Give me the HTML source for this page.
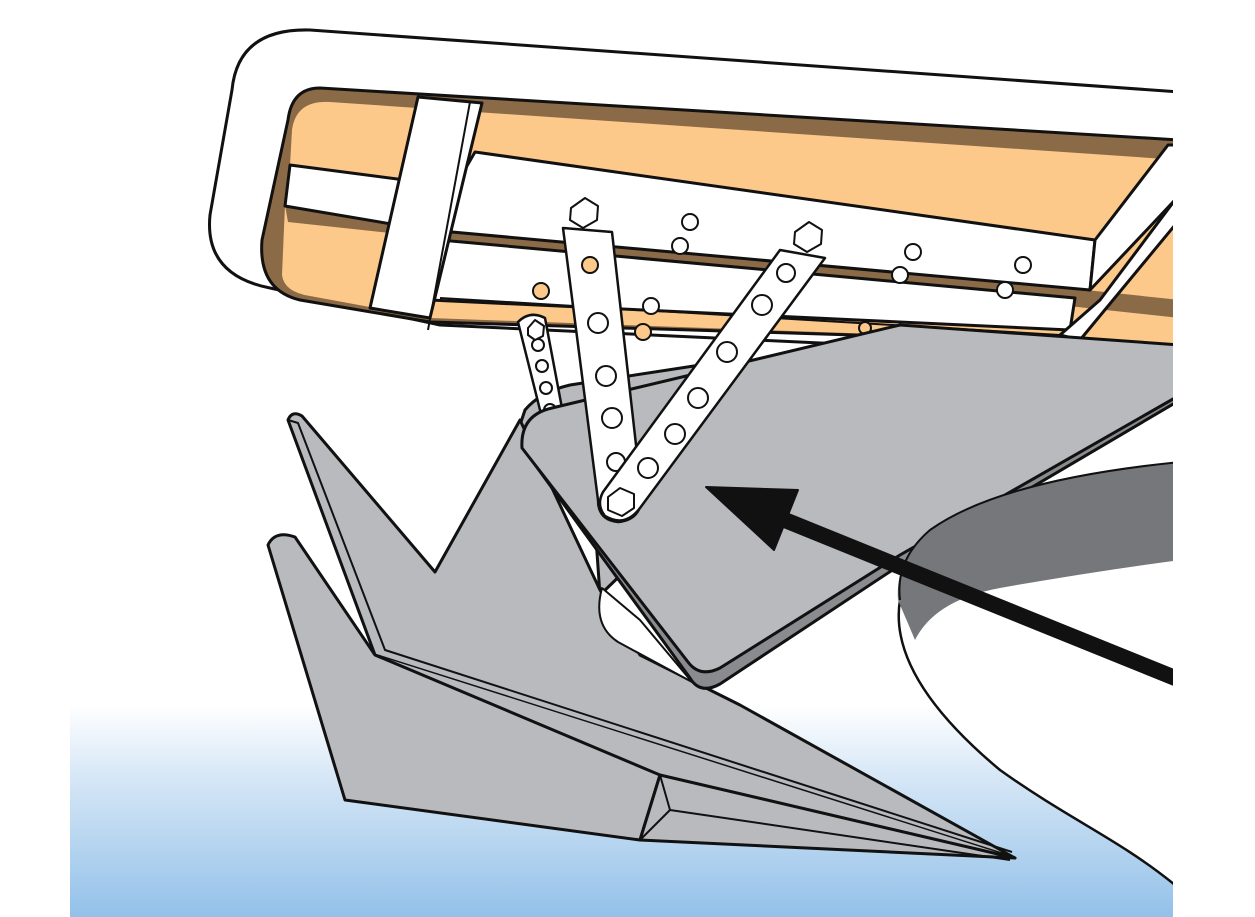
<!DOCTYPE html>
<html><head><meta charset="utf-8"><style>html,body{margin:0;padding:0;background:#fff;}svg{display:block}</style></head>
<body>
<svg width="1255" height="917" viewBox="0 0 1255 917" xmlns="http://www.w3.org/2000/svg">
<defs>
<linearGradient id="sea" x1="0" y1="0" x2="0" y2="1">
<stop offset="0" stop-color="#ffffff"/><stop offset="0.35" stop-color="#d5e6f6"/><stop offset="1" stop-color="#93c1e9"/>
</linearGradient>
<clipPath id="c"><rect x="0" y="0" width="1173" height="917"/></clipPath>
</defs>
<rect x="70" y="705" width="1103" height="212" fill="url(#sea)"/>
<g clip-path="url(#c)" stroke="#111" stroke-width="3" stroke-linejoin="round">
<!-- hull -->
<path d="M1180,560 L930,590 Q895,600 900,600 C890,660 940,720 1000,770 C1070,820 1120,840 1175,885 L1180,905 Z" fill="#fff" stroke="none"/>
<path d="M900,600 C890,660 940,720 1000,770 C1070,820 1120,840 1175,885" fill="none" stroke-width="2.5"/>
<!-- outer frame -->
<path d="M1180,92 L310,30 Q238,28 232,90 L210,215 Q204,275 270,288 L440,325 L1180,360 Z" fill="#fff"/>
<!-- inner opening wood -->
<path d="M1180,140 L320,88 Q292,88 288,120 L262,240 Q258,290 300,300 L430,322 L1180,345 Z" fill="#8b6a47"/>
<path d="M1180,160 L330,102 Q296,100 292,130 L290,165 L400,180 L285,205 L282,275 Q284,292 310,296 L430,318 L1180,345 Z" fill="#fcc98a" stroke="none"/>
<path d="M1180,318 L288,222 L285,205 L1180,300 Z" fill="#8b6a47" stroke="none"/>
<!-- middle white bar of frame -->
<path d="M290,165 L420,182 L415,228 L285,206 Z" fill="#fff"/>
<!-- upper beam -->
<path d="M475,152 L1095,240 L1090,290 L430,230 Z" fill="#fff"/>
<path d="M1095,240 L1168,145 L1175,145 L1175,200 L1090,290 Z" fill="#fff"/>
<!-- lower beam -->
<path d="M440,240 L1075,298 L1070,330 L430,300 Z" fill="#fff"/>
<path d="M440,298 L1060,335" fill="none" stroke-width="2"/>
<!-- diagonal strut -->
<path d="M1175,200 L1100,300 L1060,335 L1080,340 L1175,225 Z" fill="#fff"/>
<!-- vertical bracket -->
<path d="M418,97 L482,103 L430,318 L370,308 Z" fill="#fff"/>
<path d="M470,102 L428,330" fill="none" stroke-width="2"/>
<!-- holes on beams -->
<g fill="#fff" stroke-width="2">
<circle cx="690" cy="222" r="8"/><circle cx="680" cy="246" r="8"/>
<circle cx="913" cy="252" r="8"/><circle cx="900" cy="275" r="8"/>
<circle cx="1023" cy="265" r="8"/><circle cx="1005" cy="290" r="8"/>
<circle cx="541" cy="291" r="8" fill="#fcc98a"/><circle cx="651" cy="306" r="8"/>
<circle cx="643" cy="332" r="8" fill="#fcc98a"/><circle cx="865" cy="328" r="6" fill="#fcc98a"/>
</g>
<path d="M571,208 L585,198 L598,206 L597,220 L583,228 L570,220 Z" fill="#fff" stroke-width="2"/>
<path d="M795,232 L809,222 L822,230 L821,244 L807,252 L794,244 Z" fill="#fff" stroke-width="2"/>
<!-- back plate -->
<path d="M515,440 L525,410 Q540,392 570,385 L720,362 L760,440 L600,595 L590,455 Z" fill="#b9babe"/>
<circle cx="546" cy="422" r="10" fill="#fff" stroke-width="2"/>
<!-- small bar C -->
<path d="M518,322 Q530,310 545,318 L568,440 L548,442 Z" fill="#fff" stroke-width="2.5"/>
<g fill="#fff" stroke-width="2"><circle cx="538" cy="345" r="6"/><circle cx="542" cy="366" r="6"/><circle cx="546" cy="388" r="6"/><circle cx="550" cy="410" r="6"/></g>
<path d="M528,328 L535,320 L544,326 L543,336 L535,340 L528,335 Z" fill="#fff" stroke-width="2"/>
<!-- fluke -->
<path d="M288,420 Q292,410 302,416 L435,572 L520,420 L600,590 L640,655 L740,705 L1015,858 L375,655 Z" fill="#b9babe"/>
<path d="M375,655 L660,775 L1015,858 Z" fill="#b9babe" stroke="none"/>
<path d="M288,420 L298,423 L385,650 L1012,852" fill="none" stroke-width="2"/>
<path d="M268,545 Q275,530 295,537 L375,655 L660,775 L640,840 L345,800 Z" fill="#b9babe"/>
<path d="M660,775 L1015,858 L640,840 Z" fill="#b9babe"/>
<path d="M660,775 L670,810 L640,840 M670,810 L1010,860" fill="none" stroke-width="2"/>
<!-- white gap -->
<path d="M602,588 Q592,625 618,642 L692,682 L640,620 Z" fill="#fff" stroke-width="2"/>
<!-- main shank plate (edge) -->
<path d="M528,455 Q520,420 555,412 L900,330 L1180,348 L1180,400 L900,565 L720,684 Q700,695 690,678 Z" fill="#8a8b8f"/>
<path d="M522,448 Q520,415 552,408 L900,325 L1180,345 L1180,395 L900,555 L720,668 Q700,678 688,662 Z" fill="#b9babe"/>
<!-- dark rode band -->
<path d="M1180,462 Q1000,480 930,530 Q895,560 898,600 L915,640 Q935,600 1000,588 Q1090,572 1180,560 Z" fill="#76777b" stroke="none"/>
<path d="M1180,462 Q1000,480 930,530 Q895,560 900,600" fill="none" stroke-width="2"/>
<!-- bar A -->
<path d="M563,228 L612,232 L642,498 Q640,520 618,522 Q598,520 598,500 Z" fill="#fff" stroke-width="2.5"/>
<g fill="#fff" stroke-width="2"><circle cx="590" cy="265" r="8" fill="#fcc98a"/><circle cx="598" cy="323" r="10"/><circle cx="606" cy="376" r="10"/><circle cx="612" cy="418" r="10"/><circle cx="616" cy="462" r="9"/></g>
<!-- bar B -->
<path d="M780,250 L825,258 L640,508 Q625,528 605,516 Q596,505 603,492 Z" fill="#fff" stroke-width="2.5"/>
<g fill="#fff" stroke-width="2"><circle cx="786" cy="273" r="9"/><circle cx="762" cy="305" r="10"/><circle cx="727" cy="352" r="10"/><circle cx="698" cy="398" r="10"/><circle cx="675" cy="434" r="10"/><circle cx="648" cy="468" r="10"/></g>
<path d="M608,497 L620,488 L634,494 L634,508 L622,516 L608,510 Z" fill="#fff" stroke-width="2"/>
<!-- arrow -->
<path d="M1180,680 L765,512" stroke="#111" stroke-width="16" fill="none" stroke-linecap="butt"/>
<path d="M706,487 L798,490 L774,550 Z" fill="#111" stroke="#111" stroke-width="2"/>
</g>
</svg>
</body></html>
